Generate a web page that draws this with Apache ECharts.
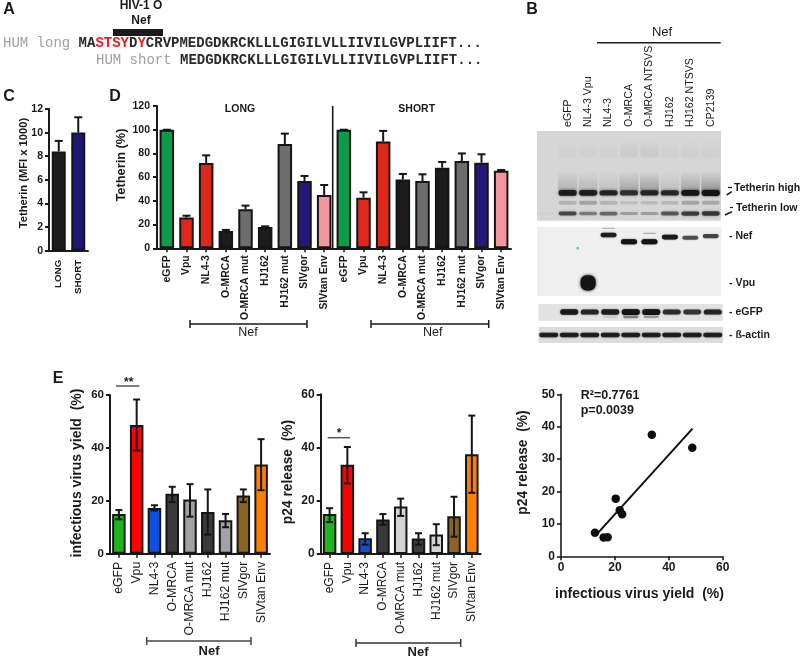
<!DOCTYPE html>
<html><head><meta charset="utf-8">
<style>html,body{margin:0;padding:0;background:#fff}#c{width:800px;height:659px;filter:blur(0.45px)}</style>
<script src="https://cdn.jsdelivr.net/npm/echarts@6/dist/echarts.min.js"></script>
</head><body><div id="c"></div>
<script>
// ---------- data ----------
const cCats = ['LONG','SHORT'];
const cVals = [8.4,10];
const cTops = [9.3,11.3];

const dCatsOne = ['eGFP','Vpu','NL4-3','O-MRCA','O-MRCA mut','HJ162','HJ162 mut','SIVgor','SIVtan Env'];
const dCats = dCatsOne.concat(dCatsOne);
const dLong = [100,26,72,14.5,33,18,88,56.8,45];
const dLongTops = [100,27.5,78.4,15.5,36,18.5,96.7,61,53.4];
const dShort = [100,42.7,90,58,56.8,68,73.6,72.2,65.5];
const dShortTops = [100,47.2,99,62.7,62.4,72.8,80,79.3,66];

const eYield = [15,48.7,17.3,22.7,20.5,15.8,12.6,22,33.7];
const eYieldLow = [13,39,16.3,19.5,14,7.2,10,19.5,24];
const eYieldHigh = [16.5,58.3,18.3,25.3,26.3,24.3,15,24.3,43.3];
const eP24 = [15,33.5,5.9,13,17.8,5.8,7.3,14.2,37.5];
const eP24Low = [12,26.5,3.5,11,14.3,3.5,3.3,6.5,23];
const eP24High = [17.2,40.2,7.8,15,20.8,7.8,11.2,21.5,52];

const scatterX = [33.7,48.7,20.3,21.8,22.7,12.6,15.8,17.3];
const scatterY = [37.5,33.5,17.8,14.2,13,7.3,5.8,5.9];
const fitX = [13.9,48.8];
const fitY = [7.4,39.4];

const blotLanes = ['','eGFP','NL4-3 Vpu','NL4-3','O-MRCA','O-MRCA NTSVS','HJ162','HJ162 NTSVS','CP2139'];
const tethHigh = [0,.88,.85,.8,.7,.78,.78,.95,.98];
const tethLow = [.02,.62,.4,.48,.25,.25,.55,.68,.7];
const tethMid = [0,.16,.22,.15,.1,.12,.14,.22,.2];
const tethSmear = [0,.2,.17,.12,.26,.3,.12,.28,.34];
const tethTop = [0,.035,.035,.035,.06,.07,.03,.04,.04];
const nefPos = [0,0,0,12,21.6,21.6,15,16,13.5];
const nefInt = [0,0,0,.85,1,1,.9,.6,.65];
const nefUpperPos = [0,0,0,2.5,0,9.6,0,0,0];
const nefUpperInt = [0,0,0,.2,0,.25,0,0,0];
const vpuBlob = [0,0,1,0,0,0,0,0,0];
const egfpInt = [0,.9,.8,.85,1,1,.75,.7,.8];
const egfpLower = [0,0,0,.1,.4,.3,0,0,0];
const actinInt = [.85,.85,.85,.85,.85,.85,.85,.85,.85];

// ---------- colours ----------
const dColors = ['#0b9b4b','#e1261c','#e1261c','#1c1a1a','#6d6d6d','#1c1a1a','#6d6d6d','#24187a','#f2979f'];
const e1Colors = ['#1fb51f','#ff0000','#0f4fe0','#3a3a3a','#a2a2a6','#3a3a3a','#a2a2a6','#8a6420','#ff8000'];
const e2Colors = ['#1fb51f','#ff0000','#0f4fe0','#3a3a3a','#d4d4d4','#3a3a3a','#d4d4d4','#8a6420','#ff8000'];

const FF = '"Liberation Sans", Arial, sans-serif';
const INK = '#1a1a1a';

// ---------- helpers ----------
const grids=[], xAxes=[], yAxes=[], series=[];
function addGrid(l,t,w,h,extra){ grids.push(Object.assign({left:l,top:t,width:w,height:h,containLabel:false},extra||{})); return grids.length-1; }

function barPanel(o){
  const g=addGrid(o.l,o.t,o.w,o.h);
  xAxes.push({type:'category',gridIndex:g,data:o.cats,
    axisLine:{lineStyle:{color:INK,width:2}},
    axisTick:{show:true,alignWithLabel:true,length:o.tick==null?4:o.tick,lineStyle:{color:INK,width:1.5}},
    axisLabel:{interval:0,rotate:90,margin:o.margin,fontFamily:FF,fontSize:o.catSize,fontWeight:o.catWeight||'normal',color:INK}});
  yAxes.push({type:'value',gridIndex:g,min:0,max:o.max,interval:o.interval,splitLine:{show:false},
    axisLine:{show:true,lineStyle:{color:INK,width:2}},
    axisTick:{show:true,length:4,lineStyle:{color:INK,width:2}},
    axisLabel:{margin:o.valMargin||6,fontFamily:FF,fontSize:o.valSize,fontWeight:'bold',color:INK}});
  series.push({type:'bar',xAxisIndex:g,yAxisIndex:g,barWidth:o.barWidth,silent:true,
    data:o.vals.map((v,i)=>({value:v,itemStyle:{color:o.colors[i],borderColor:'#151515',borderWidth:2}}))});
  series.push({type:'custom',xAxisIndex:g,yAxisIndex:g,silent:true,z:5,
    data:o.vals.map((v,i)=>[i,o.low[i],o.high[i]]),
    encode:{x:0,y:[1,2]},
    renderItem:function(p,api){
      const a=api.coord([api.value(0),api.value(1)]), b=api.coord([api.value(0),api.value(2)]);
      const cap=o.cap, ln={stroke:'#151515',lineWidth:2,fill:null};
      const kids=[{type:'line',shape:{x1:a[0],y1:a[1],x2:b[0],y2:b[1]},style:ln},
                  {type:'line',shape:{x1:b[0]-cap,y1:b[1],x2:b[0]+cap,y2:b[1]},style:ln}];
      if(o.lowCap) kids.push({type:'line',shape:{x1:a[0]-cap,y1:a[1],x2:a[0]+cap,y2:a[1]},style:ln});
      return {type:'group',children:kids};
    }});
}

function blotGrid(l,t,w,h,bg,showLabels){
  const g=addGrid(l,t,w,h,{show:true,backgroundColor:bg,borderWidth:0});
  xAxes.push(showLabels?{type:'category',gridIndex:g,position:'top',data:blotLanes,
      axisLine:{show:false},axisTick:{show:false},
      axisLabel:{show:true,interval:0,rotate:90,margin:4,fontFamily:FF,fontSize:10.6,color:INK}}
    :{type:'category',gridIndex:g,data:blotLanes,show:false});
  yAxes.push({type:'value',gridIndex:g,min:0,max:100,inverse:true,show:false});
  return g;
}
function bands(g,posArr,intArr,bw,bh,blur,round){
  const rows=intArr.map((v,i)=>[i,Array.isArray(posArr)?posArr[i]:posArr,v]).filter(r=>r[2]>0);
  series.push({type:'custom',xAxisIndex:g,yAxisIndex:g,silent:true,clip:true,data:rows,encode:{x:0,y:1},
    renderItem:function(p,api){
      const c=api.coord([api.value(0),api.value(1)]), a=api.value(2);
      const col='rgba(20,20,20,'+a+')';
      const h=bh*(0.55+0.55*a);
      return {type:'rect',shape:{x:c[0]-bw/2,y:c[1]-h/2,width:bw,height:h,r:round==null?h/2:round},
        style:{fill:col,shadowBlur:blur,shadowColor:col}};
    }});
}
// a soft smear that fades in towards the band below it
function smear(g,pos,intArr,bw,bh){
  const rows=intArr.map((v,i)=>[i,pos,v]).filter(r=>r[2]>0);
  series.push({type:'custom',xAxisIndex:g,yAxisIndex:g,silent:true,clip:true,data:rows,encode:{x:0,y:1},
    renderItem:function(p,api){
      const c=api.coord([api.value(0),api.value(1)]), a=api.value(2);
      return {type:'rect',shape:{x:c[0]-bw/2,y:c[1]-bh/2,width:bw,height:bh,r:3},
        style:{fill:new echarts.graphic.LinearGradient(0,0,0,1,[
          {offset:0,color:'rgba(40,40,40,0)'},{offset:.8,color:'rgba(40,40,40,'+a+')'},{offset:1,color:'rgba(40,40,40,'+a*.6+')'}]),
          shadowBlur:2,shadowColor:'rgba(40,40,40,'+a*.2+')'}};
    }});
}

// ---------- panels ----------
barPanel({l:49,t:109,w:39,h:141.7,cats:cCats,vals:cVals,low:cVals,high:cTops,colors:['#1f1c1c','#1e1674'],
  max:12,interval:2,barWidth:14,cap:4,margin:9,catSize:9.8,catWeight:'bold',tick:0,valSize:10.5});
barPanel({l:157,t:106,w:354,h:142.3,cats:dCats,vals:dLong.concat(dShort),low:dLong.concat(dShort),high:dLongTops.concat(dShortTops),
  colors:dColors.concat(dColors),max:120,interval:20,barWidth:14.5,cap:4,margin:7,catSize:10.4,catWeight:'bold',valSize:10.5,valMargin:7});
barPanel({l:110,t:395,w:160,h:158.7,cats:dCatsOne,vals:eYield,low:eYieldLow,high:eYieldHigh,colors:e1Colors,
  max:60,interval:20,barWidth:13.5,cap:3.5,lowCap:true,margin:8,catSize:12.3,valSize:11.5});
barPanel({l:320.7,t:394.3,w:160,h:159.7,cats:dCatsOne,vals:eP24,low:eP24Low,high:eP24High,colors:e2Colors,
  max:60,interval:20,barWidth:13.5,cap:3.5,lowCap:true,margin:8,catSize:12,valSize:12});

// scatter
const gs=addGrid(561,394.3,161.7,162);
const axisCommon={splitLine:{show:false},axisLine:{show:true,onZero:false,lineStyle:{color:INK,width:1.6}},
  axisTick:{show:true,length:4,lineStyle:{color:INK,width:1.6}},
  axisLabel:{fontFamily:FF,fontSize:12,fontWeight:'bold',color:INK}};
xAxes.push(Object.assign({type:'value',gridIndex:gs,min:0,max:60,interval:20},axisCommon,{axisLabel:Object.assign({},axisCommon.axisLabel,{margin:5})}));
yAxes.push(Object.assign({type:'value',gridIndex:gs,min:0,max:50,interval:10},axisCommon,{axisLabel:Object.assign({},axisCommon.axisLabel,{margin:6})}));
series.push({type:'line',xAxisIndex:gs,yAxisIndex:gs,silent:true,showSymbol:false,symbol:'none',
  data:fitX.map((x,i)=>[x,fitY[i]]),lineStyle:{color:'#111',width:2}});
series.push({type:'scatter',xAxisIndex:gs,yAxisIndex:gs,silent:true,symbolSize:8.5,
  data:scatterX.map((x,i)=>[x,scatterY[i]]),itemStyle:{color:'#0d0d0d',opacity:1}});

// blots
const gT=blotGrid(537,131,184,89.7,'#d6d6d6',true);
smear(gT,20,tethTop,18,18);
smear(gT,58,tethSmear,19,24);
bands(gT,80,tethMid,18,6,3);
bands(gT,69,tethHigh,18,5.5,2.5);
bands(gT,92,tethLow,18,4.6,2.5);
const gN=blotGrid(537,226.7,184,69.3,'#efefef');
bands(gN,nefUpperPos,nefUpperInt,13,2,1);
bands(gN,nefPos,nefInt,16,4.6,1.5);
bands(gN,81,vpuBlob,15,14,3,6);
const gE=blotGrid(538.5,304,184.5,16.7,'#e2e2e2');
bands(gE,78,egfpLower,15,3,2);
bands(gE,48,egfpInt,18,5.2,1.5);
const gA=blotGrid(538.5,327,184.5,16,'#dcdcdc');
bands(gA,50,actinInt,19,4.2,1.5);

// ---------- annotation ----------
function T(text,x,y,size,opt){ opt=opt||{};
  return {type:'text',x:x,y:y,rotation:opt.rot||0,silent:true,style:{text:text,x:0,y:0,fill:opt.fill||INK,
    font:(opt.w||'bold')+' '+size+'px '+FF,align:opt.align||'center',verticalAlign:'middle',rich:opt.rich}};
}
function L(x1,y1,x2,y2,w,c){ return {type:'line',silent:true,shape:{x1,y1,x2,y2},style:{stroke:c||INK,lineWidth:w||1.5}}; }
function Bracket(x1,x2,y,c){ return [L(x1,y,x2,y,1.5,c),L(x1,y-4,x1,y+4,1.5,c),L(x2,y-4,x2,y+4,1.5,c)]; }
const MONO='"Liberation Mono", monospace';
const G=[];
// letters
G.push(T('A',9,10,16),T('B',532,10,16),T('C',9,97,16),T('D',115,97,16),T('E',58,379,16));
// panel A
G.push(T('HIV-1 O',141,6,12),T('Nef',141,21,12));
G.push({type:'rect',silent:true,shape:{x:113,y:29,width:50,height:7},style:{fill:'#1a1a1a'}});
const mono=(c)=>({fill:c,font:'bold 14px '+MONO});
G.push({type:'text',x:3,y:43.5,silent:true,style:{x:0,y:0,verticalAlign:'middle',
  text:'{g|HUM long }{k|MA}{r|STSY}{k|D}{r|Y}{k|CRVPMEDGDKRCKLLLGIGILVLLIIVILGVPLIIFT...}',
  rich:{g:{fill:'#a0a0a0',font:'14px '+MONO},k:mono('#2a2a2a'),r:mono('#e21f26')}}});
G.push({type:'text',x:96,y:60,silent:true,style:{x:0,y:0,verticalAlign:'middle',
  text:'{g|HUM short }{k|MEDGDKRCKLLLGIGILVLLIIVILGVPLIIFT...}',
  rich:{g:{fill:'#a0a0a0',font:'14px '+MONO},k:mono('#2a2a2a')}}});
// panel B text
G.push(T('Nef',662,32,13,{w:'normal'}),L(597,42.7,720.7,42.7,1.5));
G.push(T('Tetherin high',734,188,10.6,{align:'left'}),T('Tetherin low',736,208,10.6,{align:'left'}));
G.push(L(728,187.5,732,187.5,1.2),L(730,207.5,733,207.5,1.2),L(726.7,195,731.7,191.7,1.5),L(725,215,732,211.7,1.5));
G.push(T('- Nef',729,235.7,10.5,{align:'left'}),T('- Vpu',729,282.7,10.5,{align:'left'}),T('- eGFP',729,311.7,10.5,{align:'left'}),T('- ß-actin',729,335,10.5,{align:'left'}));
G.push({type:'rect',silent:true,shape:{x:576.5,y:247,width:2.5,height:2.5},style:{fill:'#35e0e0'}});
// axis titles
const R=Math.PI/2;
G.push(T('Tetherin (MFI x 1000)',23.5,173,11.2,{rot:R}));
G.push(T('Tetherin (%)',121.7,165,12.8,{rot:R}));
G.push(T('infectious virus yield  (%)',77,473,14,{rot:R}));
G.push(T('p24 release  (%)',288,472,13.8,{rot:R}));
G.push(T('p24 release  (%)',523,462.5,13.8,{rot:R}));
G.push(T('infectious virus yield  (%)',639.5,594,14));
G.push(T('R²=0.7761',580.7,396,12.5,{align:'left'}),T('p=0.0039',580.7,410.7,12.5,{align:'left'}));
// panel D extras
G.push(T('LONG',240,109,10.5),T('SHORT',416.7,109,10.5),L(332.7,106,332.7,248.3,1.6));
G.push(...Bracket(190,307,324),T('Nef',248,333,12.5,{w:'normal'}));
G.push(...Bracket(371,488.7,324),T('Nef',432.7,333,12.5,{w:'normal'}));
// panel E extras
G.push(...Bracket(146.7,251,641,'#444'),T('Nef',209,651,13));
G.push(...Bracket(356,460.7,643,'#333'),T('Nef',418,652.5,13));
G.push(L(116,386,139.3,386,1.5,'#555'),T('**',128.7,383,12));
G.push(L(327.7,437.7,350,437.7,1.5,'#555'),T('*',339,434,12));

echarts.init(document.getElementById('c'),null,{renderer:'canvas'}).setOption({
  animation:false,backgroundColor:'#fff',grid:grids,xAxis:xAxes,yAxis:yAxes,series:series,graphic:G
});
</script></body></html>
